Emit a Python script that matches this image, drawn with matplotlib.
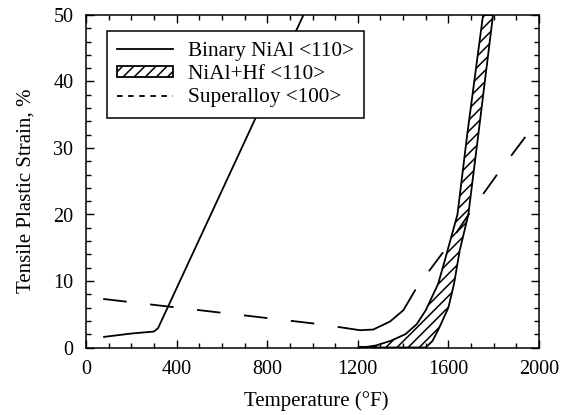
import matplotlib
matplotlib.use("Agg")
import matplotlib.pyplot as plt
import numpy as np
from matplotlib.lines import Line2D
from matplotlib.patches import Patch
from matplotlib.ticker import MultipleLocator

plt.rcParams['font.family'] = ['Liberation Serif', 'DejaVu Serif']
plt.rcParams['lines.scale_dashes'] = False
plt.rcParams['hatch.linewidth'] = 1.1

# Binary NiAl <110>
binary_T = [80, 200, 300, 318, 960]
binary_eps = [1.6, 2.1, 2.4, 2.9, 50]

# Superalloy <100>
super_T = [76, 1033, 1151, 1210, 1268, 1342, 1401, 1453, 1519, 1585, 1695, 1819, 1947]
super_eps = [7.3, 3.5, 2.9, 2.6, 2.7, 3.9, 5.6, 8.6, 11.7, 14.7, 20.3, 26.2, 32.0]

# NiAl+Hf <110> scatter band: left (upper) edge and right (lower) edge
hf_left_T = [1200, 1240, 1280, 1345, 1410, 1460, 1500, 1555, 1585, 1640, 1683, 1753]
hf_left_eps = [0, 0.1, 0.3, 1.0, 2.0, 3.5, 5.6, 9.6, 13.2, 20, 32, 50]
hf_right_T = [1500, 1530, 1560, 1600, 1625, 1650, 1688, 1732, 1797]
hf_right_eps = [0, 1, 3, 6, 9.6, 14.6, 20, 32, 50]

labels = ['Binary NiAl <110>', 'NiAl+Hf <110>', 'Superalloy <100>']

fig = plt.figure(figsize=(5.62, 4.15), dpi=100)
ax = fig.add_axes([86/562, 67.5/415, 453/562, 332.5/415])

# hatched band
band_T = hf_left_T + hf_right_T[::-1]
band_eps = hf_left_eps + hf_right_eps[::-1]
ax.fill(band_T, band_eps, facecolor='white', edgecolor='black', hatch='///', linewidth=1.3)

ax.plot(binary_T, binary_eps, color='black', linewidth=1.3)

# superalloy: dashed, with the knee drawn as one long stroke
sT = np.array(super_T)
sE = np.array(super_eps)
lo = sT <= 1151
knee = (sT >= 1151) & (sT <= 1453)
hi = sT >= 1453
ax.plot(sT[lo], sE[lo], color='black', linewidth=1.3, linestyle=(0, (17, 17)))
ax.plot(sT[knee], sE[knee], color='black', linewidth=1.3)
ax.plot(sT[hi], sE[hi], color='black', linewidth=1.3, linestyle=(17, (17, 17)))

ax.set_xlim(0, 2000)
ax.set_ylim(0, 50)
ax.xaxis.set_major_locator(MultipleLocator(400))
ax.xaxis.set_minor_locator(MultipleLocator(100))
ax.yaxis.set_major_locator(MultipleLocator(10))
ax.yaxis.set_minor_locator(MultipleLocator(2))
ax.tick_params(which='both', direction='in', top=True, right=True, width=1.0)
ax.tick_params(which='major', length=6)
ax.tick_params(which='minor', length=3.5)
ax.tick_params(axis='x', which='major', pad=9, labelsize=14.5)
ax.tick_params(axis='y', which='major', pad=9, labelsize=14.5)
for s in ax.spines.values():
    s.set_linewidth(1.1)

ax.set_xlabel('Temperature (°F)', fontsize=15)
ax.set_ylabel('Tensile Plastic Strain, %', fontsize=15)
ax.xaxis.set_label_coords(0.508, -0.13)
ax.yaxis.set_label_coords(-0.112, 0.47)

handles = [Line2D([], [], color='black', linewidth=1.3),
           Patch(facecolor='white', edgecolor='black', hatch='///', linewidth=1.3),
           Line2D([], [], color='black', linewidth=1.3, dashes=(4, 4))]
leg = ax.legend(handles, labels, loc='upper left', bbox_to_anchor=(0.046, 0.952),
                fontsize=15.3, frameon=True, fancybox=False, framealpha=1,
                edgecolor='black', borderpad=0.5, labelspacing=0.2,
                handlelength=2.6, handleheight=0.4, handletextpad=0.7,
                borderaxespad=0)
leg.get_frame().set_linewidth(1.1)

fig.savefig('out.png', dpi=100)
